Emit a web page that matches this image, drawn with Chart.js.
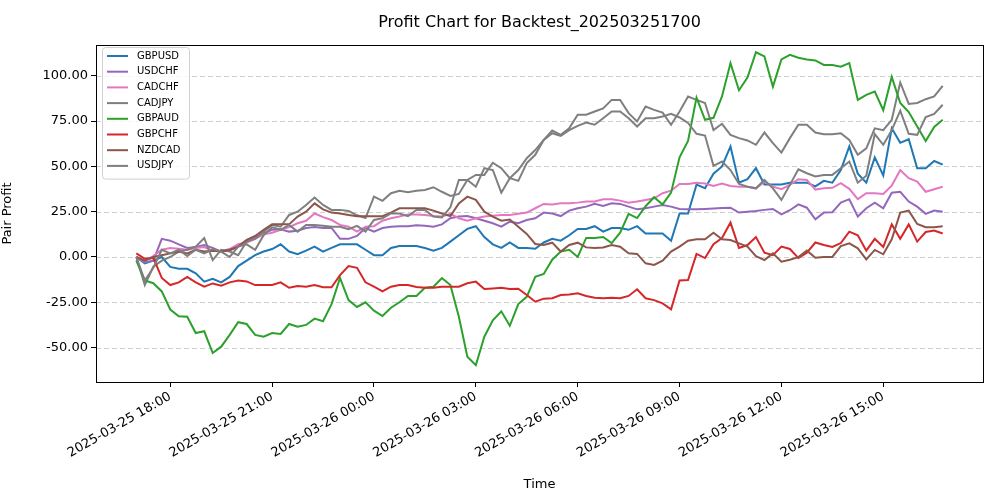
<!DOCTYPE html>
<html>
<head>
<meta charset="utf-8">
<script src="https://cdn.jsdelivr.net/npm/chart.js@4"></script>
<style>
  body { margin: 0; background: #fff; }
  #wrap { width: 1000px; height: 500px; }
</style>
</head>
<body>
<div id="wrap"><canvas id="profitChart" width="1000" height="500"></canvas></div>
<script>
// 15-minute steps from 2025-03-25 17:00
const startTime = new Date(2025, 2, 25, 17, 0);
const stepMinutes = 15;
const pairNames = ['GBPUSD', 'USDCHF', 'CADCHF', 'CADJPY', 'GBPAUD', 'GBPCHF', 'NZDCAD', 'USDJPY'];
const pairColors = ['#1f77b4', '#9467bd', '#e377c2', '#7f7f7f', '#2ca02c', '#d62728', '#8c564b', '#7f7f7f'];
const yTickValues = [-50, -25, 0, 25, 50, 75, 100];
const xTickMinutes = [60, 240, 420, 600, 780, 960, 1140, 1320];

const gbpusd = [0,-3.5,-2,0,-5.5,-6.5,-6.5,-9,-13.6,-12, -14,-11,-5,-2,1,3,4.4,7,3,1.6,
  3.5,5.7,3,5,7,7,7,4,1,1, 5,6,6,6,5,3.5,5,8.5,12,15.5, 17,11,7,5,8,5,5,4.5,8,10,
  9,12,15.5,15.5,17,14,16,16,15,17, 13,13,13,9,24,24,40,38,46,50, 61,41,43,49,40,40,40,41,41,41,
  39,42,41,48,61,46,41,55,45,71, 63,65,49,49,53,51];
const usdchf = [0,-3,-2,10,9,7,5,5.5,6.6,5, 3,3.5,5.7,9,11,13,15,15.3,14,14.5,
  16,16.5,16,16,10,10,11.6,16,14,16, 16.7,17,17,17.5,17.3,16.7,18,21.4,22.3,22.6,
  21.4,20,18.6,16.7,19.5,18.6,20.4,21.4,24.5,24, 22.6,25.6,26.9,27.8,29.3,28.2,29.6,29.3,27.8,26.3,
  26.9,27.8,28.7,27.8,26.5,26.3,26.3,26.5,26.7,27, 27.2,24.5,25,25.4,26,26.5,23.5,25.8,29,27.2,
  20.8,24.5,24.7,30,31.9,22.3,26.9,30,26.9,35.5, 36,30.6,27.8,23.8,25.6,25];
const cadchf = [0,-2,0.5,4,5,4.5,4,5,5.5,3.5, 3.3,4.4,7,8,10,12.5,13.4,15,16.5,18.6,
  20,24,22,20.4,17.7,16.7,14,16.7,17,20, 21.4,22.3,23.5,23.5,23.2,22.6,22.3,23.8,21.4,20,
  21.4,22.3,22.8,23.2,23.2,23.8,24.5,26.9,29.3,29, 29.6,29.6,30,30.6,30.6,31.9,31.9,31.1,30,30.6,
  31.5,32.4,35.2,36.6,40.3,40.3,41,40.5,39.2,40.5, 39.2,38.8,38.8,37.9,41.6,38.8,37.4,39.8,42.9,42.5,
  37.2,37.9,38.2,40.7,37.6,31.9,35.2,35.2,34.8,39.4, 48,43.5,41.6,36,37.4,38.8];
const cadjpy = [0,-15.5,-5.4,-2,0,3,4,5.7,10.5,-1.7, 4,3,1,8.5,10,
  14,17.7,16.7,23.2,25,28.7,32.8,28.7,26,26,25.4,23,21.5,33.3,31,35.2,36.6,35.7,36.6,
  37,38.5,36,33.7,34.8,42.5,45.3,45.3,52,49,43.5,48,54.5,59,64.6,69.8,
  67.4,71,78.5,78.5,80.3,82,86.7,86.7,79.4,74.8,83,81.2,79.7,73,80.3,
  88.6,86.7,85,70,73.5,67.4,65.6,64.3,61.9,68.7,62.8,57.6,65.6,73,73,
  68.7,67.7,67.7,68.3,64.6,56.4,60,71,70,75.7,96.3,84.5,85,87.1,88.6,94.5];
const gbpaud = [-2,-13,-14.5,-19,-29,-32.7,-33,-42,-41,-53, -49.5,-43,-36,-37,-43,-44,-42,-42.5,-37,-38.5,
  -37.5,-34,-35.5,-26,-11.6,-23.8,-27.6,-25,-29.6,-32.6, -28,-25,-21.5,-21.5,-17,-16.4,-11.6,-15.5,-33,-55,
  -59.7,-44,-35,-30,-38,-26,-22,-11,-9.4,-1.5, 3,4,0,10.5,10.5,11,7.7,13.4,23.8,21.5,
  28,33,29,35.5,55,64,88,75.7,76.8,88.6, 107,92,99,113,110.7,94,109,111.6,110,109,
  108.5,106,106,105,107,86.7,89.5,91.3,81,99.4, 85,80,72,64,71.8,75.7];
const gbpchf = [2,-1,-0.5,-11.6,-15.5,-14,-11,-14,-16.4,-14.6, -15.8,-14,-13,-13.5,-15.5,-15.5,-15.5,-14,-17,-16,
  -16.4,-15.5,-16.7,-16.7,-10,-5,-6,-14,-16.4,-19, -16.4,-15.5,-15.5,-16.6,-17,-17,-16.4,-16.4,-16.4,-14.5,
  -13.6,-17.7,-17.4,-17,-17.7,-17.5,-21,-24.7,-23,-22.8, -21,-20.7,-20,-21.5,-22.5,-22.8,-22.5,-22.8,-21.5,-17.8,
  -22.8,-23.8,-25.6,-28.9,-13,-12.7,1.7,-0.6,7,10.5, 19,5,6.6,11,2.4,1,5.7,4.4,-0.6,2.4,
  8,6.6,5.5,7.7,14,12,3.5,10,5.5,18, 10,18,8.5,13.8,14.6,13];
const nzdcad = [0,-2,0,1,2,3,2,4,3,3.5, 3,4,5.7,9.4,11.6,15,18,18,18,22.3,
  25,29.6,26.3,24.5,24,23.2,22.5,22.5,22.5,22.5, 24.5,26.9,26.9,26.9,26.9,25.6,24,22.6,29.6,33.3,
  31.5,25,22.3,20,20.7,16.7,12.7,7.2,6.6,7.9, 3,6.6,7.9,5.3,5,5.2,6.6,5.7,2,1.7,
  -3.5,-4.4,-2,3,5.7,9,9.8,9.8,13.4,9.8, 9.4,7.5,5.7,0.5,-1.7,2,-2.6,-1.5,-0.1,3.5,
  -0.4,0,0,6,7.5,4.8,-1.3,3.9,1.5,9.8, 24.5,25.6,18.2,16.4,16.4,17];
const usdjpy = [0,-13,-6,4,2,4,0.5,4,2,4.4,3,0,5.7,7,4,
  12,16.4,15,17.7,14,17.7,17.7,17.2,16.7,16.7,15.3,17.2,14,20.4,21.4,24,24,22.5,26,
  26,22.3,21.8,27.4,42.5,42.5,38.8,49,48,35.5,43.5,42,51.8,56.4,64.6,68.3,
  66.8,70,72.4,74.2,73,76.6,80.3,80.3,76.6,72,76.6,76.6,77.5,79,77,
  74,68,67,50.3,52.7,48,40.3,38.8,37.9,42.5,37.9,31.5,39.8,48.4,46.2,
  44.4,45.3,45.3,49,52.7,41,44.8,67.8,61.9,70,80.8,68,67.4,77.2,79,84];
const pairValues = [gbpusd, usdchf, cadchf, cadjpy, gbpaud, gbpchf, nzdcad, usdjpy];

function formatTime(minutes) {
    const d = new Date(startTime.getTime() + minutes * 60000);
    const p = (n) => String(n).padStart(2, '0');
    return `${d.getFullYear()}-${p(d.getMonth() + 1)}-${p(d.getDate())} ${p(d.getHours())}:${p(d.getMinutes())}`;
}

const FONT = 'DejaVu Sans';

// dashed y grid, frame, title and legend drawn like matplotlib
const mplLook = {
    id: 'mplLook',
    beforeDatasetsDraw(chart) {
        const { ctx, chartArea: a, scales: { y } } = chart;
        ctx.save();
        ctx.strokeStyle = '#cfcfcf';
        ctx.lineWidth = 1;
        ctx.setLineDash([5, 3]);
        yTickValues.forEach(v => {
            const py = Math.round(y.getPixelForValue(v)) + 0.5;
            ctx.beginPath(); ctx.moveTo(a.left, py); ctx.lineTo(a.right, py); ctx.stroke();
        });
        ctx.restore();
    },
    afterDraw(chart) {
        const { ctx, chartArea: a } = chart;
        ctx.save();
        ctx.strokeStyle = '#000';
        ctx.lineWidth = 1;
        ctx.strokeRect(a.left + 0.5, a.top + 0.5, a.right - a.left, a.bottom - a.top);

        ctx.fillStyle = '#000';
        ctx.font = `16px ${FONT}`;
        ctx.textAlign = 'center';
        ctx.textBaseline = 'middle';
        ctx.fillText('Profit Chart for Backtest_202503251700', (a.left + a.right) / 2, 23);

        // legend box
        const lx = a.left + 6, ly = a.top + 5, rowH = 15.7;
        ctx.fillStyle = 'rgba(255,255,255,0.8)';
        ctx.strokeStyle = '#d0d0d0';
        ctx.beginPath();
        ctx.roundRect(lx + 0.5, ly - 2.5, 87, chart.data.datasets.length * rowH + 6, 3);
        ctx.fill(); ctx.stroke();
        ctx.font = `10px ${FONT}`;
        ctx.textAlign = 'left';
        chart.data.datasets.forEach((ds, i) => {
            const cy = ly + 6 + i * rowH;
            ctx.strokeStyle = ds.borderColor;
            ctx.lineWidth = 2;
            ctx.beginPath(); ctx.moveTo(lx + 5, cy); ctx.lineTo(lx + 26, cy); ctx.stroke();
            ctx.fillStyle = '#000';
            ctx.fillText(ds.label, lx + 35, cy);
        });
        ctx.restore();
    }
};

const ctx = document.getElementById('profitChart');
ctx.chart = new Chart(ctx, {
    type: 'line',
    data: {
        datasets: pairNames.map((name, k) => ({
            label: name,
            data: pairValues[k].map((v, i) => ({ x: i * stepMinutes, y: v })),
            borderColor: pairColors[k],
            backgroundColor: pairColors[k],
            borderWidth: 2,
            pointRadius: 0,
            tension: 0,
            order: pairNames.length - k
        }))
    },
    options: {
        responsive: false,
        animation: false,
        layout: { padding: { left: 0, right: 17, top: 45, bottom: 8 } },
        plugins: { legend: { display: false }, title: { display: false }, tooltip: { enabled: false } },
        scales: {
            x: {
                type: 'linear',
                min: -71.25,
                max: 1496.25,
                afterBuildTicks: (s) => { s.ticks = xTickMinutes.map(v => ({ value: v })); },
                afterFit: (s) => { s.height = 110; },
                ticks: {
                    callback: (v) => formatTime(v),
                    maxRotation: 30, minRotation: 30,
                    color: '#000', font: { family: FONT, size: 13 }, padding: 2
                },
                grid: { drawOnChartArea: false, drawTicks: true, tickLength: 5, color: '#000' },
                border: { display: true, color: '#000' },
                title: { display: true, text: 'Time', color: '#000', font: { family: FONT, size: 13 }, padding: 0 }
            },
            y: {
                min: -69,
                max: 117,
                afterBuildTicks: (s) => { s.ticks = yTickValues.map(v => ({ value: v })); },
                afterFit: (s) => { s.width = 96; },
                ticks: {
                    callback: (v) => v.toFixed(2),
                    color: '#000', font: { family: FONT, size: 13 }, padding: 3
                },
                grid: { drawOnChartArea: false, drawTicks: true, tickLength: 5, color: '#000' },
                border: { display: true, color: '#000' },
                title: { display: true, text: 'Pair Profit', color: '#000', font: { family: FONT, size: 13 }, padding: { top: 0, bottom: 2 } }
            }
        }
    },
    plugins: [mplLook]
});
</script>
</body>
</html>
